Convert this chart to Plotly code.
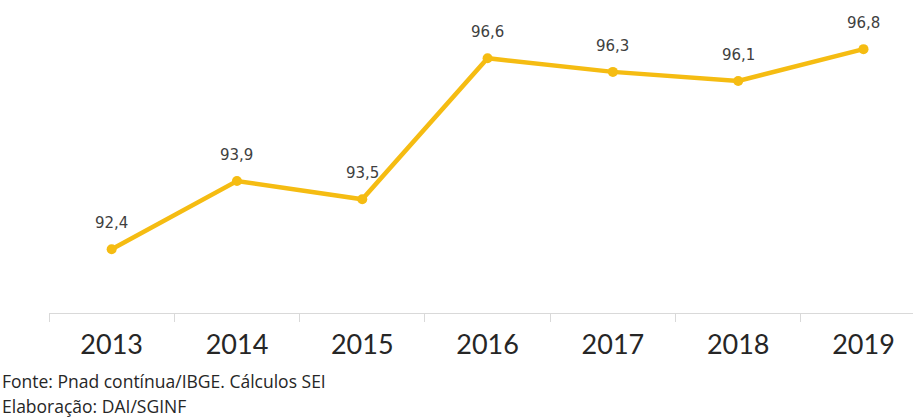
import plotly.graph_objects as go

years = ["2013", "2014", "2015", "2016", "2017", "2018", "2019"]
values = [92.4, 93.9, 93.5, 96.6, 96.3, 96.1, 96.8]
labels = ["92,4", "93,9", "93,5", "96,6", "96,3", "96,1", "96,8"]

color = "#F5BC12"

fig = go.Figure()
fig.add_trace(go.Scatter(
    x=years, y=values, mode="lines+markers",
    line=dict(color=color, width=4.5),
    marker=dict(color=color, size=10),
    hoverinfo="skip",
))

for i, (v, t) in enumerate(zip(values, labels)):
    fig.add_annotation(x=i, y=v, text=t, showarrow=False, yshift=26,
                       font=dict(family="DejaVu Sans", size=15, color="#404040"))

fig.add_annotation(xref="paper", yref="paper", x=0, y=0, xanchor="left", yanchor="middle",
                   text="Fonte: Pnad contínua/IBGE. Cálculos SEI", showarrow=False,
                   xshift=-48, yshift=-68, borderpad=0,
                   font=dict(family="Open Sans", size=17.5, color="#262626"))
fig.add_annotation(xref="paper", yref="paper", x=0, y=0, xanchor="left", yanchor="middle",
                   text="Elaboração: DAI/SGINF", showarrow=False,
                   xshift=-48, yshift=-93, borderpad=0,
                   font=dict(family="Open Sans", size=17.5, color="#262626"))

fig.update_layout(
    width=913, height=419,
    margin=dict(l=49, r=0, t=0, b=106),
    paper_bgcolor="white", plot_bgcolor="white",
    showlegend=False,
    xaxis=dict(type="category", range=[-0.5, 6.395], tickson="boundaries",
               ticks="outside", ticklen=8, tickcolor="#D9D9D9",
               showline=True, linecolor="#D9D9D9", linewidth=1,
               showgrid=False, zeroline=False,
               tickfont=dict(family="Lato", size=27, color="#262626"),
               ticklabelstandoff=8),
    yaxis=dict(range=[91, 97.88], visible=False, showgrid=False, zeroline=False),
)

fig.write_html("out.html")
